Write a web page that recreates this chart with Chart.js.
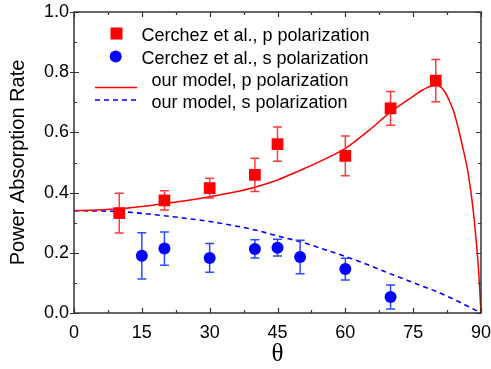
<!DOCTYPE html>
<html>
<head>
<meta charset="utf-8">
<script src="https://cdn.jsdelivr.net/npm/chart.js@4"></script>
<style>
  html, body { margin: 0; padding: 0; background: #fff; }
  #wrap { width: 491px; height: 369px; }
</style>
</head>
<body>
<div id="wrap"><canvas id="absChart" width="491" height="369"></canvas></div>
<script>
// Measured points (Cerchez et al.) with error bars
const THETA_P = [10, 20, 30, 40, 45, 60, 70, 80];
const ABS_P = [0.332, 0.374, 0.415, 0.459, 0.561, 0.522, 0.680, 0.772];
const ERR_P = [0.066, 0.032, 0.033, 0.055, 0.057, 0.066, 0.056, 0.070];

const THETA_S = [15, 20, 30, 40, 45, 50, 60, 70];
const ABS_S = [0.190, 0.214, 0.183, 0.213, 0.217, 0.186, 0.146, 0.053];
const ERR_S = [0.077, 0.055, 0.048, 0.030, 0.028, 0.056, 0.036, 0.040];

// Model curves
const MODEL_THETA_P = [0, 5, 10, 15, 20, 25, 30, 35, 40, 45, 50, 55, 60, 65, 70, 72, 75, 77, 78, 79, 80, 81, 82, 83, 84, 85, 86, 87, 88, 88.5, 89, 89.5, 90];
const MODEL_P = [0.340, 0.342, 0.346, 0.354, 0.364, 0.374, 0.386, 0.400, 0.418, 0.442, 0.474, 0.508, 0.547, 0.604, 0.668, 0.690, 0.720, 0.740, 0.748, 0.754, 0.757, 0.752, 0.735, 0.705, 0.668, 0.612, 0.548, 0.478, 0.376, 0.310, 0.230, 0.134, 0.0];

const MODEL_THETA_S = [0, 5, 10, 15, 20, 25, 30, 35, 40, 45, 50, 55, 60, 65, 70, 75, 80, 85, 90];
const MODEL_S = [0.340, 0.339, 0.337, 0.331, 0.323, 0.314, 0.304, 0.291, 0.276, 0.256, 0.237, 0.213, 0.188, 0.160, 0.130, 0.101, 0.072, 0.038, 0.0];

const LEGEND_LABELS = [
  'Cerchez et al., p polarization',
  'Cerchez et al., s polarization',
  ' our model, p polarization',
  ' our model, s polarization',
];

const X_TICK_STEP = 15;
const Y_TICK_STEP = 0.2;
const RED = '#ff0000';
const BLUE = '#0000ff';
const AXIS_COLOR = '#333';

const toXY = (xs, ys) => xs.map((x, i) => ({ x, y: ys[i] }));

// error bars drawn under the markers
const errorBars = {
  id: 'errorBars',
  beforeDatasetDraw(chart, args) {
    const ds = chart.data.datasets[args.index];
    if (!ds.errors) return;
    const { ctx, scales: { x, y } } = chart;
    ctx.save();
    ctx.strokeStyle = ds.errorColor;
    ctx.lineWidth = 1.5;
    ds.data.forEach((p, i) => {
      const px = x.getPixelForValue(p.x);
      const top = y.getPixelForValue(p.y + ds.errors[i]);
      const bot = y.getPixelForValue(p.y - ds.errors[i]);
      ctx.beginPath();
      ctx.moveTo(px, top); ctx.lineTo(px, bot);
      ctx.moveTo(px - 4.5, top); ctx.lineTo(px + 4.5, top);
      ctx.moveTo(px - 4.5, bot); ctx.lineTo(px + 4.5, bot);
      ctx.stroke();
    });
    ctx.restore();
  },
};

// box frame with Origin-style ticks on all four sides
const frameTicks = {
  id: 'frameTicks',
  afterDraw(chart) {
    const { ctx, chartArea: a, scales: { x, y } } = chart;
    ctx.save();
    ctx.strokeStyle = AXIS_COLOR;
    ctx.lineWidth = 1.5;
    ctx.strokeRect(a.left, a.top, a.right - a.left, a.bottom - a.top);
    ctx.lineWidth = 1.2;
    ctx.beginPath();
    for (let v = x.min; v <= x.max + 1e-9; v += X_TICK_STEP / 2) {
      const px = Math.round(x.getPixelForValue(v)) + 0.5;
      const major = Math.abs(v / X_TICK_STEP - Math.round(v / X_TICK_STEP)) < 1e-6;
      const len = major ? 5 : 3;
      ctx.moveTo(px, a.bottom); ctx.lineTo(px, a.bottom - len);
      ctx.moveTo(px, a.top); ctx.lineTo(px, a.top + len);
    }
    for (let v = y.min; v <= y.max + 1e-9; v += Y_TICK_STEP / 2) {
      const py = Math.round(y.getPixelForValue(v)) + 0.5;
      const major = Math.abs(v / Y_TICK_STEP - Math.round(v / Y_TICK_STEP)) < 1e-6;
      const len = major ? 5 : 3;
      ctx.moveTo(a.left - (major ? 4 : 0), py); ctx.lineTo(a.left + len, py);
      ctx.moveTo(a.right, py); ctx.lineTo(a.right - len, py);
    }
    ctx.stroke();
    ctx.restore();
  },
};

// legend box in upper left of the plot
const insetLegend = {
  id: 'insetLegend',
  afterDraw(chart) {
    const { ctx } = chart;
    const rows = [
      { text: 41, mark: 33.5 },
      { text: 63.5, mark: 56.5 },
      { text: 86, mark: 87.5 },
      { text: 107.5, mark: 100 },
    ];
    ctx.save();
    ctx.font = '18px "Liberation Sans", Arial, sans-serif';
    ctx.fillStyle = '#000';
    ctx.textBaseline = 'alphabetic';
    LEGEND_LABELS.forEach((label, i) => {
      const ds = chart.data.datasets[i];
      const r = rows[i];
      if (ds.pointStyle === 'rect') {
        ctx.fillStyle = RED;
        ctx.fillRect(116.5 - 6, r.mark - 6, 12, 12);
      } else if (ds.pointStyle === 'circle') {
        ctx.fillStyle = BLUE;
        ctx.beginPath();
        ctx.arc(115.7, r.mark, 6, 0, Math.PI * 2);
        ctx.fill();
      } else {
        ctx.strokeStyle = ds.borderColor;
        ctx.lineWidth = ds.borderWidth;
        ctx.setLineDash(ds.borderDash || []);
        ctx.beginPath();
        ctx.moveTo(95, r.mark); ctx.lineTo(137, r.mark);
        ctx.stroke();
        ctx.setLineDash([]);
      }
      ctx.fillStyle = '#000';
      ctx.fillText(label, i < 2 ? 141.5 : 146.5, r.text);
    });
    ctx.restore();
  },
};

Chart.defaults.font.family = '"Liberation Sans", Arial, sans-serif';
Chart.defaults.color = '#000';

new Chart(document.getElementById('absChart'), {
  type: 'scatter',
  data: {
    datasets: [
      {
        label: LEGEND_LABELS[0],
        data: toXY(THETA_P, ABS_P),
        errors: ERR_P,
        errorColor: '#ff3b3b',
        pointStyle: 'rect',
        pointRadius: 8.3,
        backgroundColor: RED,
        borderColor: RED,
        borderWidth: 0,
        order: 1,
      },
      {
        label: LEGEND_LABELS[1],
        data: toXY(THETA_S, ABS_S),
        errors: ERR_S,
        errorColor: '#2b4bff',
        pointStyle: 'circle',
        pointRadius: 6,
        backgroundColor: BLUE,
        borderColor: BLUE,
        borderWidth: 0,
        order: 2,
      },
      {
        type: 'line',
        label: LEGEND_LABELS[2],
        data: toXY(MODEL_THETA_P, MODEL_P),
        borderColor: RED,
        borderWidth: 1.5,
        pointRadius: 0,
        cubicInterpolationMode: 'monotone',
        fill: false,
        order: 3,
      },
      {
        type: 'line',
        label: LEGEND_LABELS[3],
        data: toXY(MODEL_THETA_S, MODEL_S),
        borderColor: BLUE,
        borderWidth: 1.6,
        borderDash: [5, 4],
        pointRadius: 0,
        cubicInterpolationMode: 'monotone',
        fill: false,
        order: 4,
      },
    ],
  },
  options: {
    responsive: false,
    animation: false,
    events: [],
    layout: { padding: { top: 12, right: 10, left: 0, bottom: 0 } },
    plugins: {
      legend: { display: false },
      tooltip: { enabled: false },
    },
    scales: {
      x: {
        type: 'linear',
        min: 0,
        max: 90,
        grid: { display: false, drawTicks: false },
        border: { display: false },
        ticks: { stepSize: X_TICK_STEP, font: { size: 18 }, padding: 9, maxRotation: 0 },
        title: {
          display: true,
          text: 'θ',
          font: { family: '"Liberation Serif", "Times New Roman", serif', size: 25 },
          padding: { top: 0, bottom: 0 },
        },
        afterFit: s => { s.height = 56; s.paddingLeft = 0; s.paddingRight = 0; },
      },
      y: {
        min: 0,
        max: 1,
        grid: { display: false, drawTicks: false },
        border: { display: false },
        ticks: { stepSize: Y_TICK_STEP, font: { size: 18 }, padding: 5, callback: v => v.toFixed(1) },
        title: {
          display: true,
          text: 'Power Absorption Rate',
          font: { size: 20 },
          padding: { top: 6, bottom: 0 },
        },
        afterFit: s => { s.width = 74; s.paddingTop = 0; s.paddingBottom = 0; },
      },
    },
  },
  plugins: [errorBars, frameTicks, insetLegend],
});
</script>
</body>
</html>
